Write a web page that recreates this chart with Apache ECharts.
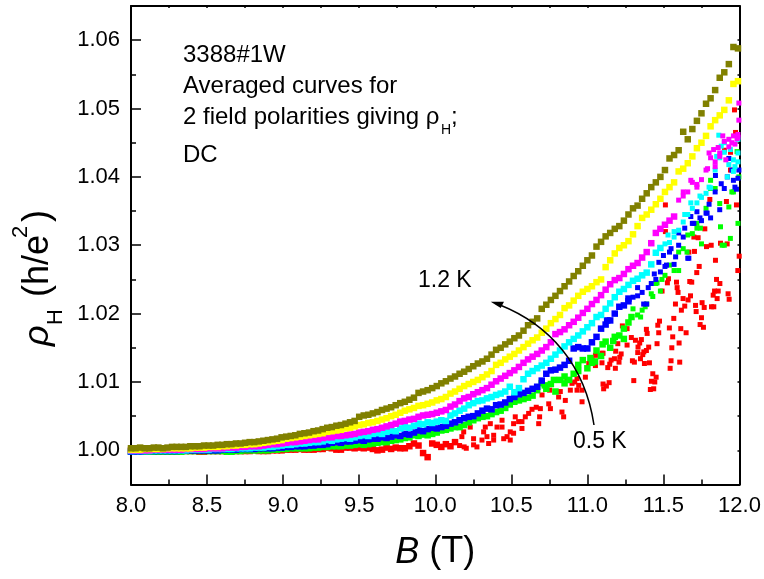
<!DOCTYPE html>
<html>
<head>
<meta charset="utf-8">
<title>rho_H vs B</title>
<script src="https://cdn.jsdelivr.net/npm/echarts@6/dist/echarts.min.js"></script>
<style>
html,body{margin:0;padding:0;background:#fff;}
#main{width:764px;height:579px;}
</style>
</head>
<body>
<div id="main"></div>
<script>
// field values shared by the curves (T)
var bGrid = [
8.00,8.03,8.06,8.09,8.12,8.15,8.18,8.21,8.24,8.27,
8.30,8.33,8.36,8.39,8.42,8.45,8.48,8.51,8.54,8.57,
8.60,8.63,8.66,8.69,8.72,8.75,8.78,8.81,8.84,8.87,
8.90,8.93,8.96,8.99,9.02,9.05,9.08,9.11,9.14,9.17,
9.20,9.23,9.26,9.29,9.32,9.35,9.38,9.41,9.44,9.47,
9.50,9.53,9.56,9.59,9.62,9.65,9.68,9.71,9.74,9.77,
9.80,9.83,9.86,9.89,9.92,9.95,9.98,10.01,10.04,10.07,
10.10,10.13,10.16,10.19,10.22,10.25,10.28,10.31,10.34,10.37,
10.40,10.43,10.46,10.49,10.52,10.55,10.58,10.61,10.64,10.67,
10.70,10.73,10.76,10.79,10.82,10.85,10.88,10.91,10.94,10.97,
11.00,11.03,11.06,11.09,11.12,11.15,11.18,11.21,11.24,11.27,
11.30,11.33,11.36,11.39,11.42,11.45,11.48,11.51,11.54,11.57,
11.60,11.63,11.66,11.69,11.72,11.75,11.78,11.81,11.84,11.87,
11.90,11.93,11.96,11.99
];
var rhoOlive = [
1.0003,1.0003,1.0004,1.0003,1.0003,1.0004,1.0004,1.0003,1.0004,1.0005,
1.0005,1.0005,1.0005,1.0006,1.0006,1.0006,1.0007,1.0007,1.0007,1.0008,
1.0008,1.0009,1.0009,1.0010,1.0010,1.0011,1.0012,1.0012,1.0013,1.0014,
1.0015,1.0016,1.0017,1.0019,1.0020,1.0021,1.0022,1.0024,1.0025,1.0026,
1.0028,1.0029,1.0031,1.0033,1.0034,1.0036,1.0037,1.0039,1.0041,1.0043,
1.0049,1.0051,1.0052,1.0054,1.0056,1.0059,1.0061,1.0063,1.0066,1.0069,
1.0071,1.0074,1.0077,1.0084,1.0086,1.0088,1.0091,1.0094,1.0098,1.0101,
1.0105,1.0108,1.0112,1.0115,1.0119,1.0123,1.0127,1.0130,1.0134,1.0140,
1.0147,1.0150,1.0155,1.0159,1.0164,1.0168,1.0175,1.0183,1.0188,1.0193,
1.0207,1.0213,1.0220,1.0226,1.0233,1.0240,1.0247,1.0255,1.0262,1.0270,
1.0278,1.0285,1.0298,1.0305,1.0313,1.0318,1.0324,1.0328,1.0336,1.0345,
1.0354,1.0358,1.0368,1.0376,1.0385,1.0392,1.0400,1.0410,1.0427,1.0432,
1.0439,1.0466,1.0455,1.0470,1.0482,1.0493,1.0507,1.0515,1.0527,1.0545,
1.0553,1.0565,1.0590,1.0588
];
var rhoYellow = [
1.0001,1.0001,1.0001,1.0002,1.0002,1.0002,1.0002,1.0002,1.0003,1.0003,
1.0003,1.0003,1.0003,1.0003,1.0004,1.0004,1.0004,1.0005,1.0005,1.0005,
1.0006,1.0006,1.0007,1.0007,1.0008,1.0008,1.0009,1.0009,1.0010,1.0011,
1.0012,1.0013,1.0014,1.0015,1.0017,1.0018,1.0019,1.0020,1.0021,1.0022,
1.0023,1.0024,1.0025,1.0027,1.0028,1.0029,1.0030,1.0032,1.0033,1.0035,
1.0037,1.0038,1.0040,1.0041,1.0043,1.0045,1.0047,1.0050,1.0052,1.0055,
1.0058,1.0060,1.0062,1.0065,1.0066,1.0068,1.0070,1.0073,1.0075,1.0078,
1.0083,1.0086,1.0090,1.0094,1.0097,1.0100,1.0103,1.0107,1.0111,1.0116,
1.0125,1.0128,1.0133,1.0137,1.0141,1.0146,1.0151,1.0156,1.0161,1.0165,
1.0172,1.0178,1.0186,1.0192,1.0198,1.0208,1.0212,1.0219,1.0226,1.0232,
1.0236,1.0240,1.0246,1.0250,1.0268,1.0278,1.0288,1.0296,1.0300,1.0306,
1.0316,1.0328,1.0340,1.0345,1.0352,1.0360,1.0368,1.0378,1.0385,1.0392,
1.0408,1.0412,1.0420,1.0430,1.0442,1.0450,1.0460,1.0474,1.0483,1.0490,
1.0498,1.0512,1.0536,1.0540
];
var rhoMagenta = [
1.0000,1.0000,1.0000,1.0000,1.0000,1.0001,1.0001,1.0001,1.0001,1.0001,
1.0001,1.0001,1.0002,1.0002,1.0002,1.0002,1.0002,1.0003,1.0003,1.0003,
1.0003,1.0004,1.0004,1.0004,1.0005,1.0005,1.0006,1.0006,1.0006,1.0007,
1.0008,1.0009,1.0009,1.0010,1.0011,1.0012,1.0012,1.0013,1.0014,1.0015,
1.0016,1.0016,1.0018,1.0019,1.0019,1.0021,1.0021,1.0022,1.0023,1.0024,
1.0026,1.0027,1.0028,1.0030,1.0031,1.0033,1.0035,1.0037,1.0039,1.0042,
1.0043,1.0045,1.0046,1.0049,1.0051,1.0052,1.0053,1.0055,1.0057,1.0059,
1.0064,1.0067,1.0072,1.0076,1.0078,1.0082,1.0085,1.0088,1.0091,1.0096,
1.0101,1.0105,1.0109,1.0113,1.0117,1.0122,1.0128,1.0133,1.0137,1.0141,
1.0146,1.0151,1.0158,1.0170,1.0173,1.0177,1.0183,1.0188,1.0194,1.0201,
1.0207,1.0214,1.0220,1.0227,1.0235,1.0243,1.0249,1.0252,1.0258,1.0265,
1.0270,1.0274,1.0282,1.0290,1.0303,1.0318,1.0324,1.0330,1.0336,1.0342,
1.0366,1.0372,1.0378,1.0392,1.0389,1.0396,1.0410,1.0428,1.0422,1.0430,
1.0452,1.0444,1.0460,1.0458
];
var rhoCyan = [
0.9999,0.9999,0.9999,0.9999,0.9999,1.0000,1.0000,1.0000,1.0000,1.0000,
1.0000,1.0000,1.0000,1.0001,1.0001,1.0001,1.0001,1.0001,1.0002,1.0002,
1.0002,1.0002,1.0002,1.0003,1.0003,1.0003,1.0003,1.0004,1.0004,1.0004,
1.0005,1.0005,1.0006,1.0007,1.0008,1.0008,1.0009,1.0010,1.0010,1.0011,
1.0012,1.0012,1.0013,1.0015,1.0014,1.0016,1.0017,1.0018,1.0017,1.0019,
1.0021,1.0022,1.0021,1.0024,1.0025,1.0024,1.0027,1.0029,1.0028,1.0032,
1.0034,1.0033,1.0036,1.0039,1.0038,1.0041,1.0040,1.0042,1.0044,1.0043,
1.0051,1.0054,1.0058,1.0061,1.0066,1.0069,1.0072,1.0073,1.0076,1.0078,
1.0081,1.0083,1.0086,1.0093,1.0085,1.0091,1.0104,1.0112,1.0116,1.0120,
1.0124,1.0128,1.0134,1.0140,1.0146,1.0152,1.0158,1.0163,1.0168,1.0174,
1.0180,1.0186,1.0195,1.0198,1.0207,1.0215,1.0224,1.0232,1.0236,1.0242,
1.0248,1.0251,1.0256,1.0260,1.0272,1.0289,1.0296,1.0302,1.0304,1.0312,
1.0322,1.0334,1.0345,1.0354,1.0362,1.0370,1.0376,1.0384,1.0410,1.0428,
1.0436,1.0418,1.0408,1.0422
];
var rhoBlue = [
0.9998,0.9998,0.9998,0.9999,0.9999,0.9999,0.9999,0.9999,0.9999,0.9999,
0.9999,1.0000,1.0000,1.0000,1.0000,1.0000,1.0000,1.0000,1.0000,1.0000,
1.0001,1.0001,1.0001,1.0001,1.0002,1.0002,1.0002,1.0002,1.0003,1.0003,
1.0003,1.0003,1.0004,1.0004,1.0005,1.0005,1.0006,1.0006,1.0006,1.0007,
1.0007,1.0008,1.0008,1.0009,1.0011,1.0012,1.0011,1.0013,1.0013,1.0014,
1.0015,1.0014,1.0016,1.0017,1.0017,1.0019,1.0018,1.0020,1.0022,1.0021,
1.0024,1.0023,1.0026,1.0029,1.0028,1.0031,1.0033,1.0032,1.0034,1.0036,
1.0039,1.0041,1.0044,1.0047,1.0049,1.0050,1.0054,1.0058,1.0061,1.0060,
1.0066,1.0067,1.0070,1.0075,1.0078,1.0082,1.0084,1.0087,1.0090,1.0093,
1.0102,1.0112,1.0117,1.0118,1.0121,1.0125,1.0131,1.0149,1.0151,1.0149,
1.0149,1.0158,1.0166,1.0178,1.0184,1.0190,1.0200,1.0210,1.0212,1.0218,
1.0224,1.0226,1.0231,1.0214,1.0244,1.0250,1.0261,1.0269,1.0290,1.0272,
1.0300,1.0312,1.0281,1.0332,1.0349,1.0336,1.0347,1.0340,1.0378,1.0352,
1.0383,1.0427,1.0395,1.0398
];
var rhoGreen = [
0.9998,0.9998,0.9998,0.9998,0.9998,0.9998,0.9998,0.9998,0.9998,0.9998,
0.9998,0.9998,0.9999,0.9999,0.9999,0.9999,0.9999,0.9999,0.9999,0.9999,
0.9999,0.9998,0.9998,0.9999,0.9999,1.0000,1.0000,1.0000,1.0000,1.0000,
1.0000,1.0001,1.0001,1.0002,1.0002,1.0003,1.0003,1.0003,1.0003,1.0003,
1.0004,1.0004,1.0005,1.0005,1.0006,1.0006,1.0006,1.0007,1.0007,1.0008,
1.0009,1.0008,1.0009,1.0010,1.0011,1.0012,1.0012,1.0014,1.0015,1.0016,
1.0018,1.0019,1.0022,1.0021,1.0023,1.0022,1.0024,1.0026,1.0029,1.0030,
1.0032,1.0034,1.0034,1.0037,1.0041,1.0044,1.0047,1.0049,1.0050,1.0053,
1.0056,1.0058,1.0062,1.0067,1.0071,1.0073,1.0075,1.0077,1.0080,1.0088,
1.0098,1.0090,1.0097,1.0086,1.0103,1.0098,1.0103,1.0112,1.0116,1.0132,
1.0120,1.0128,1.0146,1.0138,1.0159,1.0150,1.0166,1.0168,1.0163,1.0187,
1.0207,1.0198,1.0205,1.0214,1.0229,1.0244,1.0233,1.0256,1.0271,1.0263,
1.0263,1.0295,1.0315,1.0317,1.0332,1.0302,1.0354,1.0395,1.0383,1.0361,
1.0300,1.0356,1.0378,1.0332
];
// red below 10.2 T follows the grid, above that it is scattered
var rhoRedLow = [
0.9999,0.9999,0.9999,0.9999,0.9999,0.9999,0.9999,0.9999,0.9999,0.9999,
0.9999,0.9999,0.9999,0.9999,0.9999,0.9998,0.9998,0.9999,0.9999,0.9999,
0.9999,0.9999,0.9999,0.9999,0.9999,0.9999,0.9999,1.0000,0.9999,0.9999,
0.9999,1.0000,1.0000,1.0000,1.0001,1.0001,1.0001,1.0002,1.0001,1.0001,
1.0001,1.0002,1.0002,1.0004,1.0003,1.0001,1.0001,1.0004,1.0004,1.0003,
1.0004,1.0003,1.0004,1.0002,1.0000,1.0001,1.0004,1.0002,1.0004,1.0003,
1.0003,1.0006,1.0010,1.0007,0.9996,0.9990,1.0010,1.0008,1.0005,1.0009,
1.0006,1.0012,1.0007,1.0005
];
var bRedScatter = [
10.175,10.187,10.204,10.230,10.252,10.252,10.274,10.307,10.318,10.329,10.340,10.351,10.362,10.384,10.384,
10.406,10.439,10.439,10.450,10.472,10.493,10.493,10.515,10.515,10.526,10.548,10.570,10.570,10.592,10.614,
10.636,10.664,10.680,10.686,10.691,10.702,10.746,10.752,10.757,10.811,10.822,10.833,10.844,10.855,10.866,
10.888,10.899,10.917,10.932,10.932,10.943,10.965,10.965,10.987,11.009,11.031,11.053,11.053,11.097,
11.096,11.103,11.103,11.107,11.125,11.134,11.143,11.147,11.156,11.178,11.184,11.186,11.200,11.208,11.213,
11.222,11.230,11.241,11.261,11.261,11.289,11.296,11.305,11.309,11.316,11.331,11.333,11.344,11.349,11.355,
11.364,11.371,11.375,11.388,11.388,11.393,11.403,11.408,11.414,11.421,11.430,11.436,11.443,11.452,11.458,
11.463,11.469,11.474,11.491,11.513,11.513,11.526,11.533,11.539,11.544,11.550,11.555,11.561,11.568,11.579,
11.586,11.590,11.596,11.603,11.607,11.614,11.618,11.629,11.640,11.649,11.662,11.667,11.673,11.678,11.686,
11.700,11.704,11.711,11.715,11.719,11.728,11.735,11.741,11.750,11.754,11.763,11.768,11.772,11.783,11.805,
11.814,11.816,11.827,11.831,11.836,11.842,11.849,11.853,11.860,11.871,11.875,11.901,11.914,11.919,11.925,
11.932,11.941,11.941,11.967,11.974,11.980,11.989,11.998
];
var rhoRedScatter = [
1.0020,1.0027,1.0003,1.0034,1.0008,1.0017,1.0005,1.0015,1.0027,1.0034,1.0020,1.0010,1.0039,1.0015,1.0022,
1.0034,1.0044,1.0034,1.0017,1.0020,1.0027,1.0015,1.0039,1.0025,1.0049,1.0042,1.0042,1.0032,1.0049,1.0054,
1.0060,1.0063,1.0039,1.0049,1.0061,1.0081,1.0068,1.0088,1.0061,1.0078,1.0086,1.0056,1.0049,1.0073,1.0102,
1.0088,1.0098,1.0100,1.0105,1.0088,1.0095,1.0088,1.0071,1.0107,1.0127,1.0132,1.0139,1.0124,1.0142,
1.0128,1.0142,1.0097,1.0090,1.0094,1.0121,1.0099,1.0126,1.0132,1.0134,1.0120,1.0145,1.0156,1.0129,1.0136,
1.0141,1.0182,1.0162,1.0178,1.0154,1.0165,1.0131,1.0102,1.0129,1.0161,1.0143,1.0151,1.0157,1.0134,1.0162,
1.0140,1.0144,1.0127,1.0177,1.0146,1.0171,1.0151,1.0128,1.0089,1.0101,1.0112,1.0090,1.0100,1.0107,1.0156,
1.0183,1.0172,1.0189,1.0233,1.0359,1.0320,1.0245,1.0251,1.0179,1.0120,1.0131,1.0150,1.0166,1.0193,1.0214,
1.0246,1.0238,1.0231,1.0157,1.0129,1.0178,1.0205,1.0222,1.0211,1.0172,1.0220,1.0290,1.0247,1.0226,1.0246,
1.0312,1.0291,1.0212,1.0203,1.0260,1.0311,1.0269,1.0184,1.0194,1.0216,1.0180,1.0209,1.0324,1.0298,1.0367,
1.0300,1.0210,1.0227,1.0210,1.0233,1.0278,1.0250,1.0222,1.0233,1.0244,1.0303,1.0439,1.0364,1.0302,1.0229,
1.0221,1.0436,1.0410,1.0498,1.0465,1.0359,1.0263,1.0284
];
// loose points that leave the main trace at high field
var bGreenExtra = [10.72,10.78,10.85,10.94,11.02,11.05,11.10,11.17,11.24,11.29,11.35,11.38,11.43,11.458,11.49,11.60,11.655,11.72,11.743,11.81,11.875,11.886,11.94,11.95,11.984,11.996];
var rhoGreenExtra = [1.0095,1.0103,1.0108,1.0125,1.0135,1.0130,1.0155,1.0160,1.0178,1.0195,1.0195,1.0210,1.0225,1.0245,1.0250,1.0290,1.0290,1.0325,1.0325,1.0383,1.0327,1.0300,1.0310,1.0378,1.0437,1.0400];
var bBlueExtra = [11.13,11.27,11.33,11.37,11.40,11.44,11.47,11.50,11.52,11.55,11.58,11.60,11.64,11.667,11.68,11.70,11.74,11.787,11.80,11.842,11.88,11.92,11.95,11.97,11.98,11.996];
var rhoBlueExtra = [1.0190,1.0222,1.0238,1.0214,1.0238,1.0258,1.0275,1.0285,1.0271,1.0295,1.0283,1.0318,1.0325,1.0281,1.0342,1.0332,1.0340,1.0347,1.0360,1.0402,1.0390,1.0400,1.0410,1.0385,1.0382,1.0410];
var bCyanExtra = [11.53,11.57,11.64,11.68,11.74,11.80,11.85,11.864,11.88,11.90,11.92,11.94,11.96,11.97,11.99,11.99];
var rhoCyanExtra = [1.0315,1.0320,1.0345,1.0362,1.0372,1.0385,1.0430,1.0461,1.0445,1.0450,1.0400,1.0440,1.0425,1.0415,1.0455,1.0435];
var bMagentaExtra = [11.63,11.68,11.72,11.79,11.80,11.83,11.84,11.86,11.87,11.89,11.91,11.93,11.95,11.97,11.984,11.99,11.996,11.996];
var rhoMagentaExtra = [1.0378,1.0395,1.0385,1.0412,1.0435,1.0440,1.0415,1.0443,1.0435,1.0460,1.0425,1.0455,1.0450,1.0448,1.0456,1.0462,1.0483,1.0508];

var xTickInterval = 0.5;
var yMajorTicks = [1.00,1.01,1.02,1.03,1.04,1.05,1.06];
var yMinorTicks = [0.995,1.005,1.015,1.025,1.035,1.045,1.055,1.065];

function pairs(bs, rhos){
	var out = [];
	for(var i=0;i<rhos.length;i++){
		out.push([bs[i], rhos[i]]);
	}
	return out;
}
// dense part of a trace is drawn a bit fatter so that it closes up, as in the scan
function dots(name, color, data, fatUntil){
	return {
		name: name,
		type: 'scatter',
		symbol: 'rect',
		symbolSize: function(d){ return d[0] < fatUntil ? 6.5 : 5; },
		itemStyle: {color: color, opacity: 1},
		data: data,
		clip: false,
		silent: true,
		animation: false
	};
}

var FONT = 'Arial, "Liberation Sans", sans-serif';
var axisLine = {lineStyle: {color: '#000', width: 2}};

function label(text, x, y, size, extra){
	var style = {text: text, x: x, y: y, font: (size || 24) + 'px ' + FONT, fill: '#000', verticalAlign: 'middle'};
	return {type: 'text', silent: true, z: 10, style: Object.assign(style, extra || {})};
}
function sideText(text, x, y, font){
	return {type: 'text', silent: true, x: x, y: y, rotation: Math.PI / 2, style: {text: text, x: 0, y: 0, font: font, fill: '#000', verticalAlign: 'bottom'}};
}

var myChart = echarts.init(document.getElementById('main'));
var option = {
	animation: false,
	backgroundColor: '#fff',
	grid: {left: 131, right: 24.5, top: 6, bottom: 94.5, outerBoundsMode: 'none'},
	xAxis: [{
		type: 'value', min: 8, max: 12, interval: xTickInterval,
		position: 'bottom',
		axisLine: axisLine,
		splitLine: {show: false},
		axisTick: {inside: true, length: 10, lineStyle: {color: '#000', width: 1.5}},
		minorTick: {show: true, splitNumber: 2, length: 5, lineStyle: {color: '#000', width: 1.5}},
		axisLabel: {color: '#000', fontSize: 22, fontFamily: FONT, margin: 10, formatter: function(v){return v.toFixed(1);}},
		name: '{i|B}{n| (T)}',
		nameLocation: 'middle',
		nameGap: 50,
		nameTextStyle: {
			rich: {
				i: {fontSize: 36, fontStyle: 'italic', fontFamily: FONT, color: '#000'},
				n: {fontSize: 36, fontFamily: FONT, color: '#000'}
			}
		}
	},{
		type: 'value', min: 8, max: 12, interval: 0.25,
		position: 'top',
		axisLine: axisLine,
		splitLine: {show: false},
		axisTick: {inside: true, length: 2, lineStyle: {color: '#000', width: 1.5}},
		axisLabel: {show: false}
	}],
	yAxis: [{
		type: 'value', min: 0.995, max: 1.065,
		position: 'left',
		axisLine: axisLine,
		splitLine: {show: false},
		axisTick: {inside: true, length: 10, customValues: yMajorTicks, lineStyle: {color: '#000', width: 1.5}},
		axisLabel: {color: '#000', fontSize: 22, fontFamily: FONT, margin: 11, customValues: yMajorTicks, formatter: function(v){return v.toFixed(2);}}
	},{
		type: 'value', min: 0.995, max: 1.065,
		position: 'left',
		axisLine: {show: false},
		splitLine: {show: false},
		axisTick: {inside: true, length: 5, customValues: yMinorTicks, lineStyle: {color: '#000', width: 1.5}},
		axisLabel: {show: false}
	},{
		type: 'value', min: 0.995, max: 1.065, interval: 0.005,
		position: 'right',
		axisLine: axisLine,
		splitLine: {show: false},
		axisTick: {inside: true, length: 2, lineStyle: {color: '#000', width: 1.5}},
		axisLabel: {show: false}
	}],
	series: [
		dots('0.5 K', '#ff0000', pairs(bGrid, rhoRedLow).concat(pairs(bRedScatter, rhoRedScatter)), 10.15),
		dots('green', '#00ff00', pairs(bGrid, rhoGreen).concat(pairs(bGreenExtra, rhoGreenExtra)), 11.3),
		dots('blue', '#0000ff', pairs(bGrid, rhoBlue).concat(pairs(bBlueExtra, rhoBlueExtra)), 11.3),
		dots('cyan', '#00ffff', pairs(bGrid, rhoCyan).concat(pairs(bCyanExtra, rhoCyanExtra)), 11.5),
		dots('magenta', '#ff00ff', pairs(bGrid, rhoMagenta).concat(pairs(bMagentaExtra, rhoMagentaExtra)), 11.6),
		dots('yellow', '#ffff00', pairs(bGrid, rhoYellow), 12.1),
		dots('1.2 K', '#808000', pairs(bGrid, rhoOlive), 12.1)
	],
	graphic: {elements: [
		label('3388#1W', 183, 55.5),
		label('Averaged curves for', 183, 86),
		label('2 field polarities giving \u03c1', 183, 117.5),
		label('H', 441, 130, 14),
		label(';', 451, 117.5),
		label('DC', 183, 155),
		label('1.2 K', 418, 281, 23),
		label('0.5 K', 573, 442, 23),
		// arrow from the 0.5 K trace up to the 1.2 K trace
		{
			type: 'bezierCurve', silent: true, z: 10,
			shape: {x1: 594, y1: 425, cpx1: 585, cpy1: 365, cpx2: 550, cpy2: 325, x2: 500, y2: 305},
			style: {stroke: '#000', lineWidth: 1.5, fill: null}
		},
		{
			type: 'polygon', silent: true, z: 10,
			shape: {points: [[490.7, 301.7], [504, 301.7], [500.7, 308]]},
			style: {fill: '#000'}
		},
		// y axis title pieces, each rotated
		sideText('\u03c1', 56, 346, 'italic 36px ' + FONT),
		sideText('H', 67, 325, '22px ' + FONT),
		sideText('(h/e', 56, 297, '36px ' + FONT),
		sideText('2', 32, 238, '22px ' + FONT),
		sideText(')', 56, 222, '36px ' + FONT)
	]}
};
myChart.setOption(option);
</script>
</body>
</html>
